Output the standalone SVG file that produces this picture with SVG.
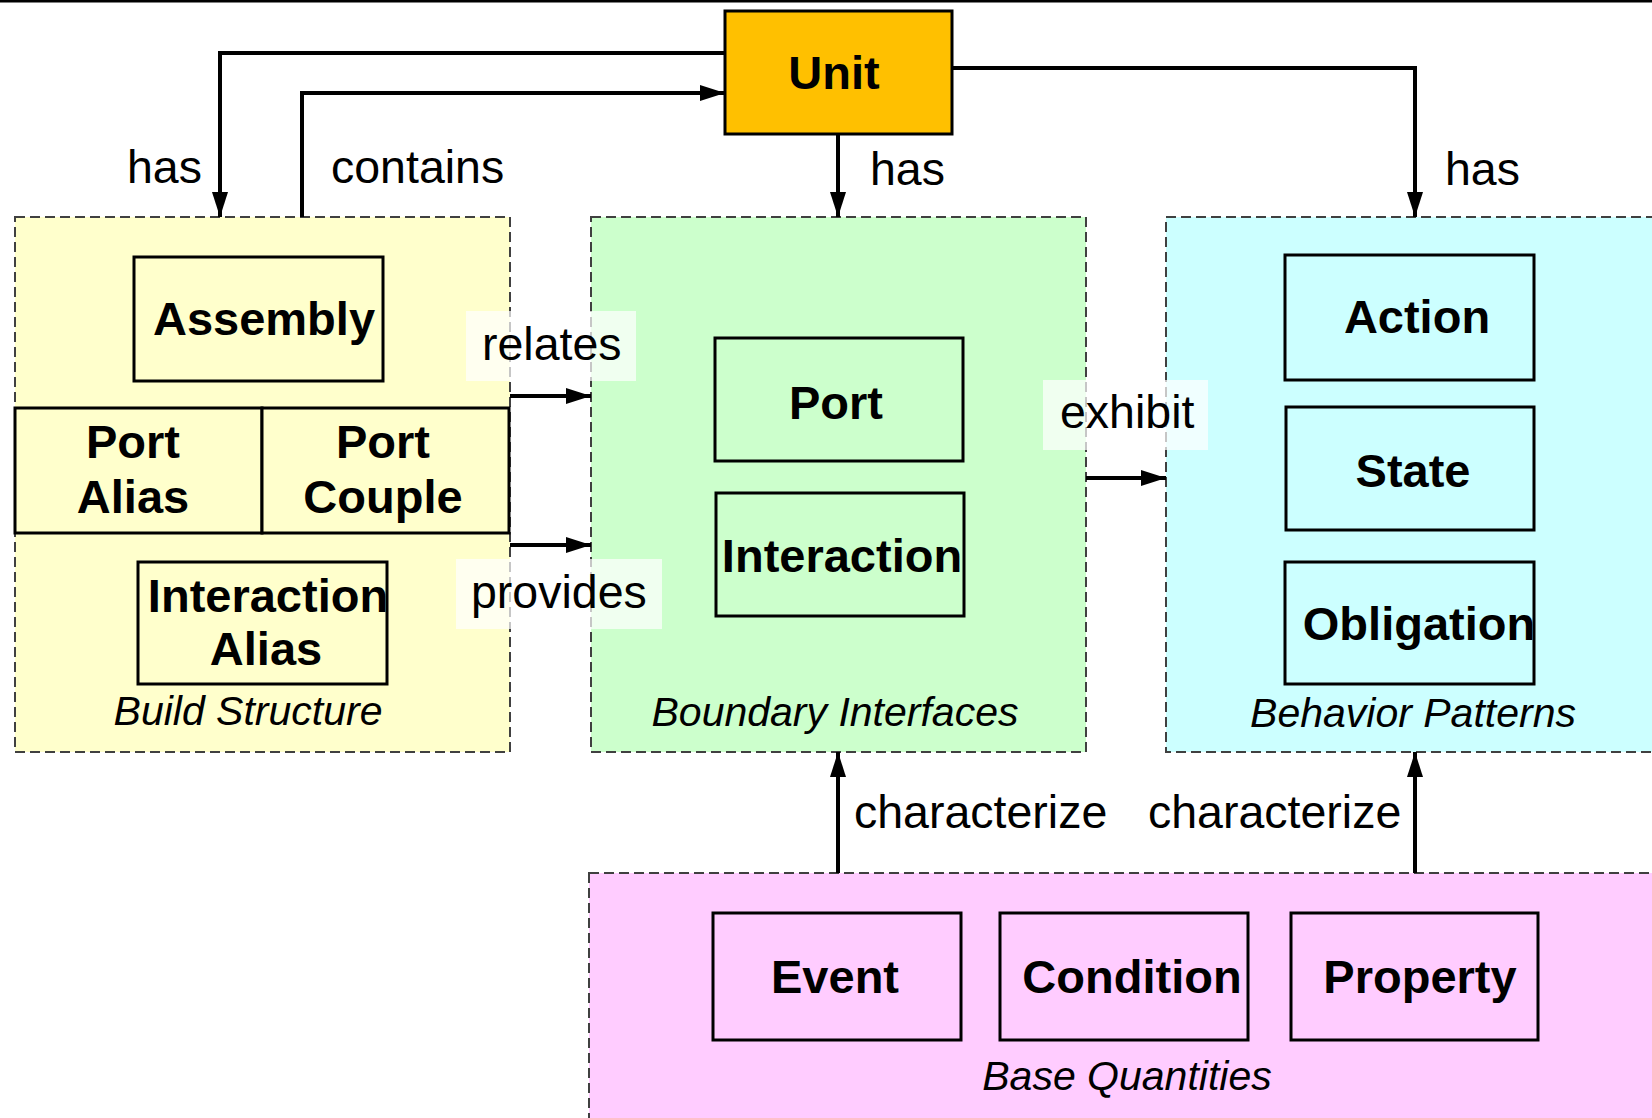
<svg xmlns="http://www.w3.org/2000/svg" width="1652" height="1118" viewBox="0 0 1652 1118">
<style>
.grp{stroke:#404040;stroke-width:2;stroke-dasharray:10,5}
.node{stroke:#000;stroke-width:3}
.nt{font-family:"Liberation Sans",Arial,sans-serif;font-size:47px;font-weight:bold;fill:#000;text-anchor:middle}
.gt{font-family:"Liberation Sans",Arial,sans-serif;font-size:41px;font-style:italic;fill:#000;text-anchor:middle}
.lt{font-family:"Liberation Sans",Arial,sans-serif;font-size:46.5px;fill:#000}
.lbg{fill:#fff;fill-opacity:0.7}
.con{fill:none;stroke:#000;stroke-width:4;marker-end:url(#arr)}
</style>
<defs>
<marker id="arr" markerUnits="userSpaceOnUse" markerWidth="26" markerHeight="16" refX="25" refY="8" orient="auto">
<path d="M0,0 L25,8 L0,16 z" fill="#000"/>
</marker>
</defs>
<rect x="0" y="0" width="1652" height="1118" fill="#fff"/>
<rect x="0" y="0" width="1652" height="2.5" fill="#000"/>

<g id="build-structure">
<rect class="grp" x="15" y="217" width="495" height="535" fill="#FFFFCC"/>
<g id="assembly"><rect class="node" x="134" y="257" width="249" height="124" fill="#FFFFCC"/><text class="nt" x="264" y="335">Assembly</text></g>
<g id="port-alias"><rect class="node" x="15" y="408" width="247" height="125" fill="#FFFFCC"/><text class="nt" x="133" y="458">Port</text><text class="nt" x="133" y="513">Alias</text></g>
<g id="port-couple"><rect class="node" x="262" y="408" width="247" height="125" fill="#FFFFCC"/><text class="nt" x="383" y="458">Port</text><text class="nt" x="383" y="513">Couple</text></g>
<g id="interaction-alias"><rect class="node" x="138" y="562" width="249" height="122" fill="#FFFFCC"/><text class="nt" x="268" y="612">Interaction</text><text class="nt" x="266" y="665">Alias</text></g>
<text class="gt" x="248" y="725">Build Structure</text>
</g>

<g id="boundary-interfaces">
<rect class="grp" x="591" y="217" width="495" height="535" fill="#CCFFCC"/>
<g id="port"><rect class="node" x="715" y="338" width="248" height="123" fill="#CCFFCC"/><text class="nt" x="836" y="419">Port</text></g>
<g id="interaction"><rect class="node" x="716" y="493" width="248" height="123" fill="#CCFFCC"/><text class="nt" x="842" y="572">Interaction</text></g>
<text class="gt" x="835" y="726">Boundary Interfaces</text>
</g>

<g id="behavior-patterns">
<rect class="grp" x="1166" y="217" width="500" height="535" fill="#CCFFFF"/>
<g id="action"><rect class="node" x="1285" y="255" width="249" height="125" fill="#CCFFFF"/><text class="nt" x="1417" y="333">Action</text></g>
<g id="state"><rect class="node" x="1286" y="407" width="248" height="123" fill="#CCFFFF"/><text class="nt" x="1413" y="487">State</text></g>
<g id="obligation"><rect class="node" x="1285" y="562" width="249" height="122" fill="#CCFFFF"/><text class="nt" x="1419" y="640">Obligation</text></g>
<text class="gt" x="1413" y="727">Behavior Patterns</text>
</g>

<g id="base-quantities">
<rect class="grp" x="589" y="873" width="1080" height="260" fill="#FFCCFF"/>
<g id="event"><rect class="node" x="713" y="913" width="248" height="127" fill="#FFCCFF"/><text class="nt" x="835" y="993">Event</text></g>
<g id="condition"><rect class="node" x="1000" y="913" width="248" height="127" fill="#FFCCFF"/><text class="nt" x="1132" y="993">Condition</text></g>
<g id="property"><rect class="node" x="1291" y="913" width="247" height="127" fill="#FFCCFF"/><text class="nt" x="1420" y="993">Property</text></g>
<text class="gt" x="1127" y="1090">Base Quantities</text>
</g>

<g id="unit">
<rect class="node" x="725" y="11" width="227" height="123" fill="#FFC000"/>
<text class="nt" x="834" y="89">Unit</text>
</g>

<g id="connectors">
<path class="con" d="M725,53 H220 V217"/>
<path class="con" d="M302,217 V93 H725"/>
<path class="con" d="M838,134 V217"/>
<path class="con" d="M952,68 H1415 V217"/>
<path class="con" d="M510,396 H591"/>
<path class="con" d="M510,545 H591"/>
<path class="con" d="M1086,478 H1166"/>
<path class="con" d="M838,873 V752"/>
<path class="con" d="M1415,873 V752"/>
<rect class="lbg" x="466" y="311" width="170" height="70"/>
<rect class="lbg" x="456" y="559" width="206" height="70"/>
<rect class="lbg" x="1043" y="380" width="165" height="70"/>
<text class="lt" x="127" y="183">has</text>
<text class="lt" x="331" y="183">contains</text>
<text class="lt" x="870" y="185">has</text>
<text class="lt" x="1445" y="185">has</text>
<text class="lt" x="482" y="360">relates</text>
<text class="lt" x="471" y="608">provides</text>
<text class="lt" x="1060" y="428">exhibit</text>
<text class="lt" x="854" y="828">characterize</text>
<text class="lt" x="1148" y="828">characterize</text>
</g>
</svg>
